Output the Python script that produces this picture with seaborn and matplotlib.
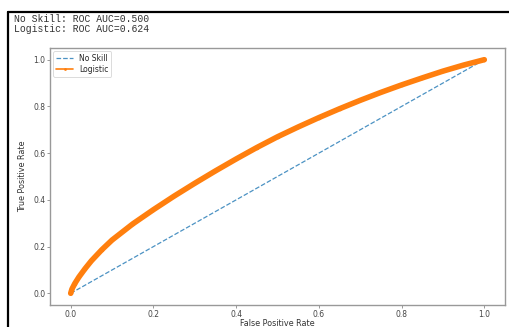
import matplotlib
matplotlib.use("Agg")
import seaborn as sns
import matplotlib.pyplot as plt
from matplotlib.lines import Line2D

# ROC points
ns_fpr = [0.0, 1.0]
ns_tpr = [0.0, 1.0]
lr_fpr = [0.0, 0.003, 0.01, 0.02, 0.035, 0.05, 0.075, 0.1, 0.15, 0.2, 0.25, 0.3, 0.35,
          0.4, 0.45, 0.5, 0.55, 0.6, 0.65, 0.7, 0.75, 0.8, 0.85, 0.9, 0.95, 1.0]
lr_tpr = [0.0, 0.018, 0.042, 0.07, 0.106, 0.139, 0.186, 0.228, 0.297, 0.358, 0.416, 0.471,
          0.524, 0.575, 0.624, 0.67, 0.712, 0.752, 0.79, 0.826, 0.86, 0.892, 0.922, 0.951,
          0.977, 1.0]
ns_auc = 0.500
lr_auc = 0.624

sns.set_style("white")
plt.rcParams['font.family'] = ['DejaVu Sans']

fig = plt.figure(figsize=(5.09, 3.27), dpi=100)
ax = fig.add_axes([50 / 509, 1 - 305 / 327, 455 / 509, 257 / 327])

sns.lineplot(x=ns_fpr, y=ns_tpr, ax=ax, linestyle='--', color='#1f77b4',
             linewidth=0.9, alpha=0.8, label='No Skill')
sns.lineplot(x=lr_fpr, y=lr_tpr, ax=ax, color='#ff7f0e', linewidth=4.0,
             marker='.', markersize=5, markeredgewidth=0, label='Logistic')

ax.set_xlabel('False Positive Rate', fontsize=5.8, color='#333333', labelpad=0)
ax.set_ylabel('True Positive Rate', fontsize=5.8, color='#333333', labelpad=4)
ax.tick_params(axis='both', labelsize=5.5, labelcolor='#444444', length=2,
               width=0.6, color='#888888', pad=1.5, bottom=True, left=True)
ax.set_xticks([0.0, 0.2, 0.4, 0.6, 0.8, 1.0])
ax.set_yticks([0.0, 0.2, 0.4, 0.6, 0.8, 1.0])
for s in ax.spines.values():
    s.set_color('#999999')
    s.set_linewidth(1.0)

leg = ax.legend(loc='upper left', fontsize=5.5, frameon=True, borderpad=0.4,
                handlelength=2.2, labelspacing=0.2, borderaxespad=0.4)
leg.get_frame().set_edgecolor('#cccccc')
leg.get_frame().set_linewidth(0.6)
leg.get_lines()[1].set_linewidth(1.2)
leg.get_lines()[1].set_markersize(4)

# screenshot frame and printed output above the plot
fig.add_artist(Line2D([8 / 509, 8 / 509], [0, 1 - 12 / 327], color='black', linewidth=1.6))
fig.add_artist(Line2D([8 / 509, 1], [1 - 12 / 327, 1 - 12 / 327], color='black', linewidth=1.6))
fig.text(14 / 509, 1 - 19 / 327, 'No Skill: ROC AUC=%.3f' % ns_auc,
         family='Liberation Mono', fontsize=7, color='#333333', va='center')
fig.text(14 / 509, 1 - 29 / 327, 'Logistic: ROC AUC=%.3f' % lr_auc,
         family='Liberation Mono', fontsize=7, color='#333333', va='center')

fig.savefig('out.png', dpi=100)
